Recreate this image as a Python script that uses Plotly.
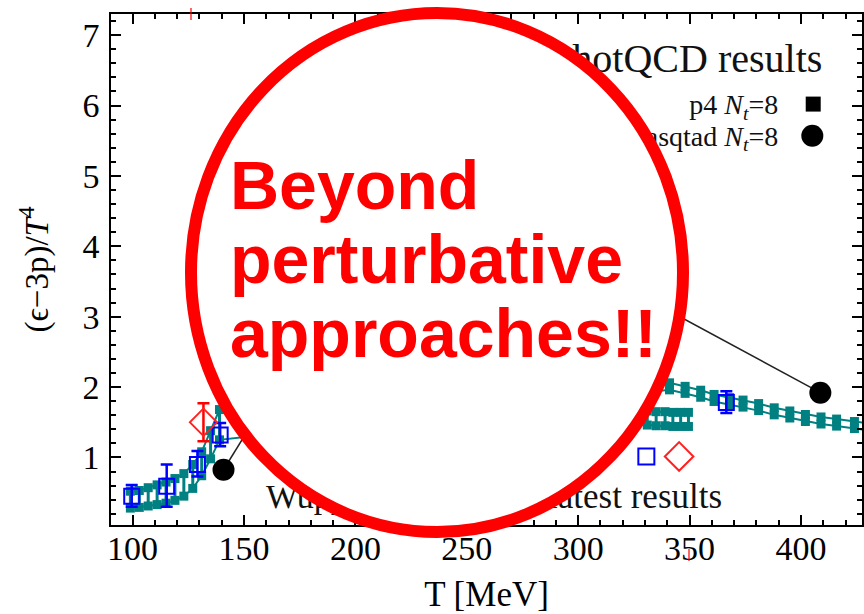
import plotly.graph_objects as go

# ---------------- data ----------------
x_tickvals = [100, 150, 200, 250, 300, 350, 400]
y_tickvals = [1, 2, 3, 4, 5, 6, 7]

# hotQCD band 1 (visible parts, lower / upper bounds)
p4_T = [99, 103, 107, 111, 115, 119, 123, 127, 131, 135, 139,
        341, 348, 355, 361, 368, 374, 381, 388, 395, 402, 409, 416, 424, 431]
p4_lo = [0.28, 0.29, 0.31, 0.33, 0.35, 0.39, 0.45, 0.56, 0.74, 0.98, 1.25,
         1.96, 1.91, 1.855, 1.795, 1.75, 1.715, 1.665, 1.605, 1.56, 1.51, 1.475, 1.445, 1.41, 1.38]
p4_hi = [0.52, 0.53, 0.57, 0.61, 0.65, 0.70, 0.77, 0.90, 1.08, 1.38, 1.68,
         2.06, 2.01, 1.955, 1.895, 1.85, 1.815, 1.765, 1.705, 1.66, 1.61, 1.575, 1.545, 1.51, 1.48]

# hotQCD band 2 (visible right end)
asq_T = [331, 335, 339, 342.5, 346, 349.5]
asq_lo = [1.46, 1.45, 1.45, 1.44, 1.44, 1.44]
asq_hi = [1.66, 1.65, 1.65, 1.64, 1.64, 1.64]

# Wuppertal-Budapest points (blue squares)
wb_T = [99.6, 115.3, 129.1, 139.3, 366.5]
wb_v = [0.45, 0.59, 0.90, 1.32, 1.78]
wb_up = [0.16, 0.31, 0.19, 0.17, 0.16]
wb_dn = [0.15, 0.29, 0.17, 0.16, 0.15]

# red diamond point
rd_T = [131.8]
rd_v = [1.50]
rd_err = [0.27]

# black pointer lines (circle end, other end hidden)
ptrL_T = [140.8, 155.0]
ptrL_v = [0.825, 1.55]
ptrR_T = [408.7, 309.9]
ptrR_v = [1.92, 3.61]

# legend entries
leg_text = ["hotQCD results", "p4 <i>N</i><sub><i>t</i></sub>=8", "asqtad <i>N</i><sub><i>t</i></sub>=8"]
leg_T = [409.6, 389.8, 389.8]
leg_v = [6.62, 5.98, 5.53]
leg_size = [40, 28, 28]
legmark_T = [405.5, 405.1]
legmark_v = [6.02, 5.57]
wbleg_T = [330.6, 345.3]
wbleg_v = [1.014, 1.014]
wb_label_parts = ["Wuppertal-Budapest", "latest results"]
wb_label_T = [159.9, 364.6]
wb_label_v = [0.40, 0.40]
wb_label_pos = ["middle right", "middle left"]
wb_label_size = [34, 35]

TEAL = "#008080"
SERIF = "Liberation Serif, Times New Roman, serif"

fig = go.Figure()

def band(T, lo, hi):
    rx, ry = [], []
    for t, a, b in zip(T, lo, hi):
        rx += [t, t, None]
        ry += [a, b, None]
    fig.add_trace(go.Scatter(x=rx, y=ry, mode="lines", line=dict(color=TEAL, width=3),
                             hoverinfo="skip"))
    for yy in (lo, hi):
        fig.add_trace(go.Scatter(x=T, y=yy, mode="lines+markers",
                                 line=dict(color=TEAL, width=2),
                                 marker=dict(color=TEAL, size=9, symbol="square")))

band(p4_T, p4_lo, p4_hi)
band(asq_T, asq_lo, asq_hi)

# pointer lines with black circles
for T, v in ((ptrL_T, ptrL_v), (ptrR_T, ptrR_v)):
    fig.add_trace(go.Scatter(x=T, y=v, mode="lines", line=dict(color="#222222", width=1.5)))
    fig.add_trace(go.Scatter(x=T[:1], y=v[:1], mode="markers",
                             marker=dict(color="black", size=22, symbol="circle")))

# WB blue squares
fig.add_trace(go.Scatter(x=wb_T, y=wb_v, mode="markers",
                         marker=dict(symbol="square-open", size=15, color="#0000ff",
                                     line=dict(width=2, color="#0000ff")),
                         error_y=dict(type="data", array=wb_up, arrayminus=wb_dn,
                                      color="#0000ff", thickness=2.5, width=6)))
# red diamond
fig.add_trace(go.Scatter(x=rd_T, y=rd_v, mode="markers",
                         marker=dict(symbol="diamond-open", size=21, color="#ff2020",
                                     line=dict(width=1.8, color="#ff2020")),
                         error_y=dict(type="data", array=rd_err, color="#ff0000",
                                      thickness=2.5, width=6)))

# legend-like items
for i in range(3):
    fig.add_trace(go.Scatter(x=[leg_T[i]], y=[leg_v[i]], mode="text", text=[leg_text[i]],
                             textposition="middle left",
                             textfont=dict(family=SERIF, size=leg_size[i], color="#111111")))
fig.add_trace(go.Scatter(x=legmark_T[:1], y=legmark_v[:1], mode="markers",
                         marker=dict(symbol="square", size=15, color="black")))
fig.add_trace(go.Scatter(x=legmark_T[1:], y=legmark_v[1:], mode="markers",
                         marker=dict(symbol="circle", size=22, color="black")))
fig.add_trace(go.Scatter(x=wbleg_T[:1], y=wbleg_v[:1], mode="markers",
                         marker=dict(symbol="square-open", size=16, color="#0000ff",
                                     line=dict(width=2, color="#0000ff"))))
fig.add_trace(go.Scatter(x=wbleg_T[1:], y=wbleg_v[1:], mode="markers",
                         marker=dict(symbol="diamond-open", size=22, color="#ff2020",
                                     line=dict(width=2, color="#ff2020"))))
for i in range(2):
    fig.add_trace(go.Scatter(x=[wb_label_T[i]], y=[wb_label_v[i]], mode="text",
                             text=[wb_label_parts[i]], textposition=wb_label_pos[i],
                             textfont=dict(family=SERIF, size=wb_label_size[i], color="#111111")))

# big red circle (white inside) covering the middle
L, T_, W, H = 111, 14, 751, 511
def px(x): return (x - L) / W
def py(y): return (T_ + H - y) / H
fig.add_shape(type="circle", xref="paper", yref="paper",
              x0=px(191), x1=px(683), y0=py(532), y1=py(13),
              fillcolor="white", line=dict(color="#ff0000", width=12), layer="above")
# two tiny red marks seen on the picture
fig.add_shape(type="line", xref="paper", yref="paper", x0=px(191), x1=px(191),
              y0=py(8), y1=py(20), line=dict(color="#ff0000", width=1.2), layer="above")
fig.add_shape(type="line", xref="paper", yref="paper", x0=px(689), x1=px(689),
              y0=py(549), y1=py(561), line=dict(color="#ff0000", width=1.2), layer="above")

for txt, ycen in (("Beyond", 185), ("perturbative", 259), ("approaches!!", 333)):
    fig.add_annotation(text="<b>" + txt + "</b>", xref="paper", yref="paper",
                       x=px(228), y=py(ycen), xanchor="left", yanchor="middle",
                       showarrow=False,
                       font=dict(family="Liberation Sans, Arial, sans-serif", size=68, color="#ff0000"))

axis_common = dict(showline=True, linecolor="black", linewidth=1.5, mirror="allticks",
                   ticks="inside", ticklen=10, tickwidth=1.5, tickcolor="black",
                   showgrid=False, zeroline=False,
                   tickfont=dict(family=SERIF, size=34, color="black"))

fig.update_xaxes(range=[90.3, 427.4], tickmode="array", tickvals=x_tickvals,
                 minor=dict(ticks="inside", dtick=10, tick0=100, ticklen=5, tickwidth=1.5,
                            tickcolor="black", showgrid=False),
                 title=dict(text="T [MeV]", font=dict(family=SERIF, size=35, color="black"),
                            standoff=20),
                 ticklabelstandoff=-8, **axis_common)
fig.update_yaxes(range=[0.04, 7.3], tickmode="array", tickvals=y_tickvals,
                 minor=dict(ticks="inside", dtick=0.2, tick0=0, ticklen=5, tickwidth=1.5,
                            tickcolor="black", showgrid=False),
                 title=dict(text="(ϵ−3p)/<i>T</i><sup>4</sup>",
                            font=dict(family=SERIF, size=33, color="black"), standoff=24),
                 ticklabelstandoff=3, **axis_common)

fig.update_layout(width=864, height=614, showlegend=False,
                  margin=dict(l=111, r=2, t=14, b=89, autoexpand=False),
                  paper_bgcolor="white", plot_bgcolor="white")

fig.write_html("out.html", config={"displayModeBar": False},
               post_script="document.body.style.margin='0px';")
